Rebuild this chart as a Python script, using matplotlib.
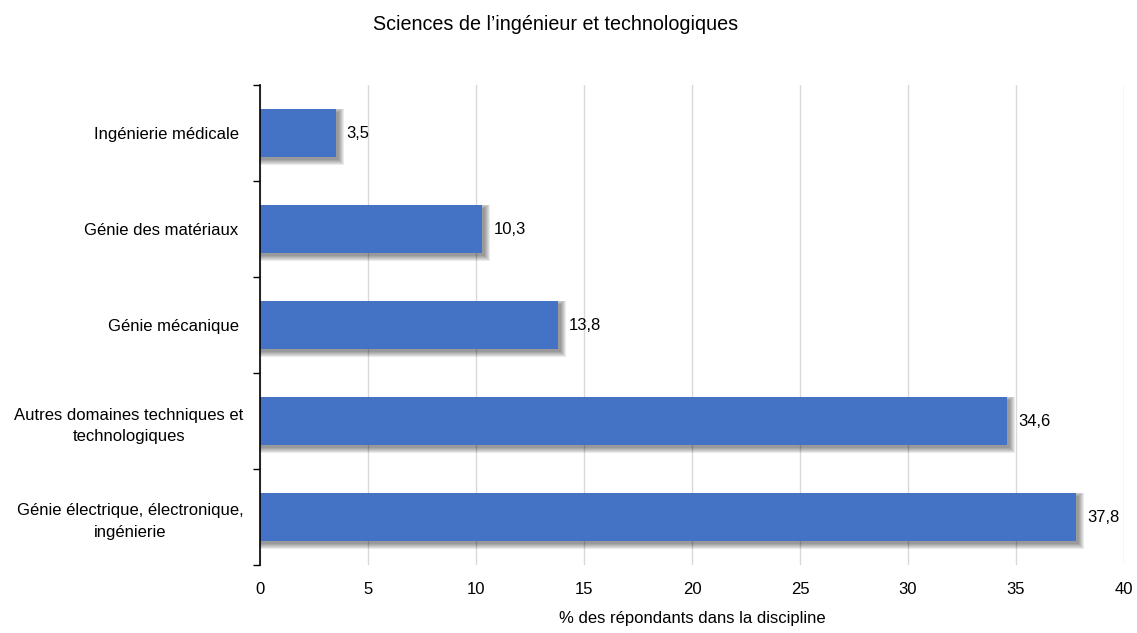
import matplotlib
matplotlib.use("Agg")
import matplotlib.pyplot as plt
from matplotlib.patches import Rectangle
from matplotlib import font_manager

names = {f.name for f in font_manager.fontManager.ttflist}
family = ["Liberation Sans Narrow", "Liberation Sans", "DejaVu Sans"]
family = [f for f in family if f in names] or ["DejaVu Sans"]
plt.rcParams["font.family"] = family

categories = [
    "Génie électrique, électronique,\ningénierie",
    "Autres domaines techniques et\ntechnologiques",
    "Génie mécanique",
    "Génie des matériaux",
    "Ingénierie médicale",
]
values = [37.8, 34.6, 13.8, 10.3, 3.5]
value_labels = ["37,8", "34,6", "13,8", "10,3", "3,5"]
xticks = [0, 5, 10, 15, 20, 25, 30, 35, 40]

bar_color = "#4472C4"
fs = 12

W, H = 1137, 633
fig = plt.figure(figsize=(W / 100, H / 100), dpi=100)
ax = fig.add_axes([260 / W, 1 - 565 / H, 864 / W, 480 / H])

pos = list(range(len(categories)))
h = 0.5
ax.set_xlim(0, 40)
ax.set_ylim(-0.5, len(categories) - 0.5)

# pixel -> data unit conversions for the soft shadow
px_x = 40 / 864
px_y = len(categories) / 480

# blurred drop shadow: stacked translucent rectangles, offset right/down
off_x, off_y = 3, 3
for r in [5, 4, 3, 2, 1, 0]:
    for p, v in zip(pos, values):
        x1 = v + (off_x + r) * px_x
        y0 = p - h / 2 - (off_y + r) * px_y
        y1 = p + h / 2 - (off_y - min(r, off_y)) * px_y
        ax.add_patch(Rectangle((0, y0), x1, y1 - y0, facecolor="black",
                               alpha=0.08, linewidth=0, zorder=2))

ax.barh(pos, values, height=h, color=bar_color, linewidth=0, zorder=3)

for p, v, lab in zip(pos, values, value_labels):
    ax.text(v + 11 * px_x, p, lab, va="center", ha="left", fontsize=fs, zorder=4)

ax.set_xticks(xticks)
ax.set_xticklabels([str(t) for t in xticks], fontsize=fs)
ax.set_yticks(pos)
ax.set_yticklabels([c if "\n" in c else c + " " for c in categories],
                   fontsize=fs, ha="right", multialignment="center",
                   linespacing=1.55)
ax.tick_params(axis="y", length=0, pad=12)
ax.tick_params(axis="x", length=0, pad=12)

# category separators on the value axis
ax.set_yticks([p + 0.5 for p in [-1] + pos], minor=True)
ax.tick_params(axis="y", which="minor", length=5, width=1, color="black")

ax.grid(axis="x", color="#D9D9D9", linewidth=1, zorder=0)
ax.set_axisbelow(True)
for s in ["top", "right", "bottom"]:
    ax.spines[s].set_visible(False)
ax.spines["left"].set_color("black")
ax.spines["left"].set_linewidth(1.2)
ax.spines["left"].set_zorder(5)

ax.set_xlabel("% des répondants dans la discipline", fontsize=fs, labelpad=10)
fig.text(556 / W, 1 - 25 / H, "Sciences de l’ingénieur et technologiques",
         fontsize=14.2, ha="center", va="center")

fig.savefig("out.png", dpi=100, facecolor="white")
